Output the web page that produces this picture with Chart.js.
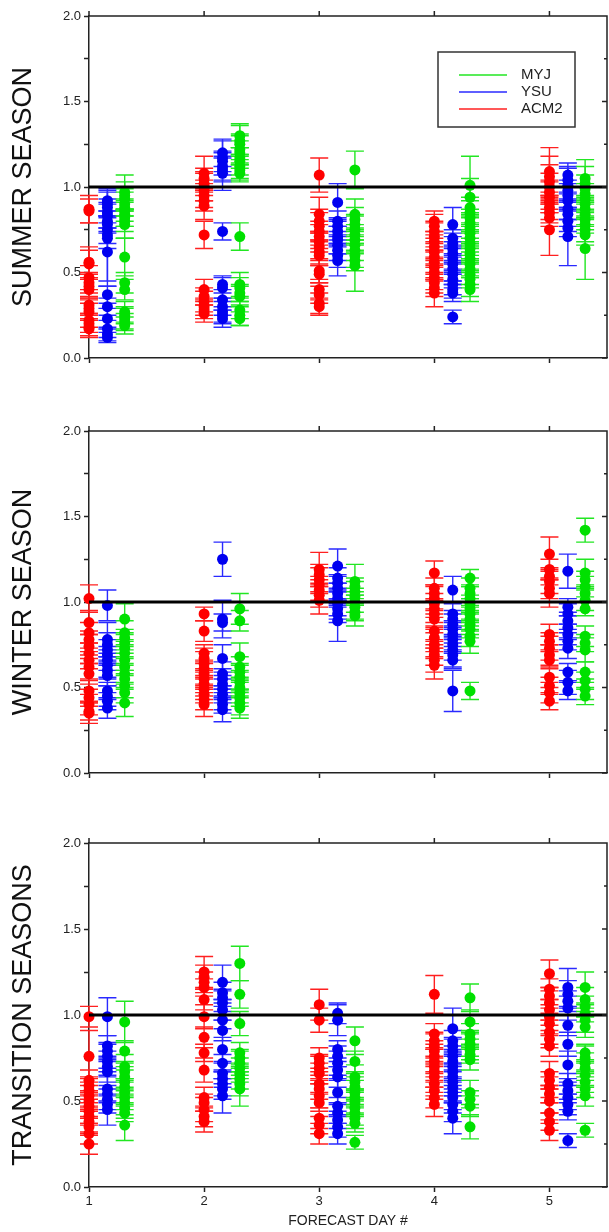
<!DOCTYPE html>
<html>
<head>
<meta charset="utf-8">
<script src="https://cdn.jsdelivr.net/npm/chart.js@4.4.1/dist/chart.umd.min.js"></script>
<style>
    body { margin: 0; background: #fff; width: 609px; height: 1232px; overflow: hidden; }
    .panel { position: relative; width: 609px; }
    canvas { display: block; }
</style>
</head>
<body>
<div class="panel"><canvas id="summer" width="609" height="400"></canvas></div>
<div class="panel"><canvas id="winter" width="609" height="410"></canvas></div>
<div class="panel"><canvas id="transition" width="609" height="422"></canvas></div>
<script>
// forecast days and model names
const days = [1, 2, 3, 4, 5];
const models = ["MYJ", "YSU", "ACM2"];
const yTicks = [0, 0.5, 1, 1.5, 2];

// SUMMER SEASON: one list per forecast day
const summerACM2 = [
    [0.87, 0.86, 0.56, 0.55, 0.47, 0.44, 0.42, 0.40, 0.31, 0.29, 0.27, 0.22, 0.20, 0.18, 0.17],
    [1.08, 1.05, 1.02, 1.00, 0.98, 0.95, 0.92, 0.89, 0.72, 0.40, 0.36, 0.33, 0.30, 0.28, 0.26],
    [1.07, 0.84, 0.80, 0.77, 0.74, 0.71, 0.68, 0.65, 0.62, 0.60, 0.51, 0.49, 0.40, 0.37, 0.32, 0.30],
    [0.80, 0.77, 0.74, 0.71, 0.68, 0.65, 0.62, 0.59, 0.56, 0.53, 0.50, 0.47, 0.44, 0.41, 0.38],
    [1.09, 1.06, 1.03, 1.00, 0.97, 0.94, 0.91, 0.88, 0.85, 0.82, 0.75],
];
const summerACM2Err = [
    [0.08, 0.07, 0.09, 0.08, 0.07, 0.06, 0.07, 0.06, 0.05, 0.06, 0.05, 0.04, 0.05, 0.05, 0.05],
    [0.10, 0.06, 0.07, 0.08, 0.06, 0.07, 0.06, 0.08, 0.08, 0.06, 0.05, 0.06, 0.05, 0.05, 0.05],
    [0.10, 0.10, 0.07, 0.08, 0.06, 0.07, 0.06, 0.08, 0.07, 0.06, 0.07, 0.05, 0.06, 0.05, 0.06, 0.05],
    [0.06, 0.07, 0.06, 0.08, 0.06, 0.07, 0.05, 0.06, 0.07, 0.06, 0.05, 0.07, 0.06, 0.05, 0.08],
    [0.14, 0.12, 0.10, 0.08, 0.07, 0.09, 0.06, 0.07, 0.06, 0.05, 0.15],
];
const summerYSU = [
    [0.92, 0.90, 0.88, 0.85, 0.83, 0.80, 0.78, 0.75, 0.72, 0.70, 0.62, 0.37, 0.30, 0.23, 0.17, 0.14, 0.12],
    [1.20, 1.17, 1.15, 1.12, 1.10, 1.08, 0.74, 0.43, 0.41, 0.34, 0.30, 0.27, 0.25, 0.23],
    [0.91, 0.80, 0.77, 0.74, 0.71, 0.69, 0.66, 0.63, 0.60, 0.57],
    [0.78, 0.70, 0.67, 0.64, 0.61, 0.58, 0.55, 0.52, 0.49, 0.46, 0.43, 0.40, 0.38, 0.24],
    [1.07, 1.04, 1.01, 0.98, 0.95, 0.92, 0.87, 0.84, 0.80, 0.76, 0.71],
];
const summerYSUErr = [
    [0.06, 0.07, 0.05, 0.06, 0.07, 0.06, 0.05, 0.08, 0.27, 0.06, 0.20, 0.05, 0.05, 0.06, 0.05, 0.04, 0.03],
    [0.08, 0.10, 0.06, 0.08, 0.07, 0.10, 0.05, 0.05, 0.06, 0.06, 0.05, 0.06, 0.05, 0.05],
    [0.11, 0.06, 0.05, 0.07, 0.06, 0.08, 0.05, 0.06, 0.07, 0.09],
    [0.10, 0.05, 0.06, 0.07, 0.05, 0.06, 0.05, 0.07, 0.06, 0.05, 0.06, 0.05, 0.05, 0.04],
    [0.07, 0.08, 0.10, 0.06, 0.07, 0.05, 0.06, 0.07, 0.06, 0.05, 0.17],
];
const summerMYJ = [
    [0.97, 0.95, 0.93, 0.90, 0.88, 0.86, 0.84, 0.82, 0.80, 0.78, 0.59, 0.44, 0.40, 0.27, 0.25, 0.23, 0.21, 0.19],
    [1.30, 1.27, 1.25, 1.22, 1.20, 1.17, 1.15, 1.12, 1.10, 1.08, 0.71, 0.43, 0.41, 0.38, 0.36, 0.28, 0.25, 0.23],
    [1.10, 0.84, 0.81, 0.78, 0.75, 0.72, 0.69, 0.66, 0.63, 0.60, 0.57, 0.54],
    [1.01, 0.94, 0.88, 0.85, 0.82, 0.79, 0.76, 0.73, 0.70, 0.67, 0.64, 0.61, 0.58, 0.55, 0.52, 0.49, 0.46, 0.43, 0.40],
    [1.05, 1.02, 0.99, 0.96, 0.93, 0.90, 0.87, 0.84, 0.81, 0.78, 0.75, 0.72, 0.64],
];
const summerMYJErr = [
    [0.10, 0.08, 0.06, 0.07, 0.05, 0.06, 0.07, 0.05, 0.06, 0.08, 0.11, 0.06, 0.06, 0.06, 0.05, 0.06, 0.05, 0.05],
    [0.07, 0.09, 0.06, 0.08, 0.07, 0.06, 0.08, 0.07, 0.06, 0.05, 0.08, 0.07, 0.06, 0.05, 0.06, 0.05, 0.06, 0.04],
    [0.11, 0.09, 0.07, 0.06, 0.08, 0.06, 0.07, 0.05, 0.06, 0.07, 0.06, 0.15],
    [0.17, 0.11, 0.06, 0.07, 0.05, 0.06, 0.08, 0.06, 0.05, 0.07, 0.06, 0.05, 0.06, 0.07, 0.05, 0.06, 0.05, 0.07, 0.07],
    [0.11, 0.10, 0.08, 0.06, 0.07, 0.05, 0.06, 0.07, 0.06, 0.05, 0.07, 0.06, 0.18],
];

// WINTER SEASON
const winterACM2 = [
    [1.02, 0.88, 0.82, 0.78, 0.74, 0.70, 0.66, 0.62, 0.58, 0.48, 0.44, 0.40, 0.36, 0.35],
    [0.93, 0.83, 0.70, 0.67, 0.64, 0.61, 0.58, 0.55, 0.52, 0.49, 0.46, 0.43, 0.40],
    [1.19, 1.16, 1.13, 1.10, 1.07, 1.04, 1.01],
    [1.17, 1.08, 1.05, 1.02, 0.99, 0.96, 0.93, 0.90, 0.83, 0.79, 0.75, 0.72, 0.69, 0.66, 0.63],
    [1.28, 1.19, 1.15, 1.12, 1.08, 1.05, 0.81, 0.77, 0.73, 0.69, 0.66, 0.56, 0.51, 0.47, 0.42],
];
const winterACM2Err = [
    [0.08, 0.07, 0.06, 0.05, 0.07, 0.06, 0.05, 0.07, 0.06, 0.06, 0.05, 0.06, 0.05, 0.06],
    [0.04, 0.06, 0.05, 0.06, 0.07, 0.05, 0.06, 0.05, 0.07, 0.06, 0.05, 0.06, 0.07],
    [0.10, 0.06, 0.07, 0.05, 0.06, 0.07, 0.08],
    [0.07, 0.06, 0.05, 0.07, 0.06, 0.05, 0.07, 0.06, 0.05, 0.06, 0.07, 0.05, 0.06, 0.07, 0.08],
    [0.10, 0.06, 0.05, 0.07, 0.06, 0.08, 0.06, 0.05, 0.07, 0.06, 0.05, 0.06, 0.05, 0.06, 0.05],
];
const winterYSU = [
    [0.98, 0.78, 0.75, 0.72, 0.69, 0.66, 0.63, 0.60, 0.57, 0.48, 0.45, 0.42, 0.38],
    [1.25, 0.90, 0.88, 0.67, 0.58, 0.55, 0.52, 0.49, 0.46, 0.43, 0.40, 0.37],
    [1.21, 1.14, 1.11, 1.08, 1.05, 1.02, 0.99, 0.96, 0.93, 0.89],
    [1.07, 0.93, 0.90, 0.87, 0.84, 0.81, 0.78, 0.75, 0.72, 0.69, 0.66, 0.48],
    [1.18, 0.97, 0.93, 0.89, 0.85, 0.81, 0.77, 0.73, 0.59, 0.53, 0.48],
];
const winterYSUErr = [
    [0.09, 0.10, 0.07, 0.06, 0.05, 0.06, 0.07, 0.05, 0.06, 0.05, 0.06, 0.05, 0.06],
    [0.10, 0.11, 0.05, 0.08, 0.07, 0.06, 0.05, 0.06, 0.05, 0.06, 0.05, 0.07],
    [0.10, 0.06, 0.05, 0.07, 0.06, 0.05, 0.07, 0.06, 0.05, 0.12],
    [0.08, 0.07, 0.05, 0.06, 0.05, 0.07, 0.06, 0.05, 0.06, 0.07, 0.05, 0.12],
    [0.10, 0.05, 0.06, 0.05, 0.07, 0.06, 0.05, 0.06, 0.05, 0.07, 0.05],
];
const winterMYJ = [
    [0.90, 0.82, 0.79, 0.76, 0.73, 0.70, 0.66, 0.62, 0.58, 0.55, 0.51, 0.47, 0.41],
    [0.96, 0.89, 0.68, 0.62, 0.59, 0.56, 0.53, 0.50, 0.47, 0.44, 0.41, 0.38],
    [1.12, 1.09, 1.06, 1.03, 1.00, 0.97, 0.94, 0.92],
    [1.14, 1.08, 1.05, 1.02, 0.99, 0.96, 0.93, 0.90, 0.87, 0.84, 0.80, 0.77, 0.48],
    [1.42, 1.17, 1.13, 1.09, 1.05, 1.01, 0.96, 0.80, 0.76, 0.72, 0.59, 0.54, 0.49, 0.45],
];
const winterMYJErr = [
    [0.09, 0.07, 0.05, 0.06, 0.05, 0.07, 0.06, 0.05, 0.06, 0.05, 0.07, 0.06, 0.08],
    [0.09, 0.06, 0.08, 0.06, 0.05, 0.07, 0.06, 0.05, 0.06, 0.05, 0.07, 0.06],
    [0.10, 0.05, 0.06, 0.05, 0.06, 0.07, 0.05, 0.06],
    [0.05, 0.06, 0.05, 0.07, 0.05, 0.06, 0.05, 0.07, 0.06, 0.05, 0.06, 0.07, 0.05],
    [0.07, 0.08, 0.05, 0.06, 0.05, 0.06, 0.04, 0.06, 0.05, 0.07, 0.06, 0.05, 0.06, 0.05],
];

// TRANSITION SEASONS
const transACM2 = [
    [0.99, 0.76, 0.62, 0.59, 0.56, 0.53, 0.50, 0.47, 0.44, 0.41, 0.38, 0.35, 0.31, 0.25],
    [1.25, 1.22, 1.19, 1.16, 1.09, 0.99, 0.87, 0.78, 0.68, 0.52, 0.49, 0.45, 0.41, 0.38],
    [1.06, 0.97, 0.75, 0.72, 0.69, 0.66, 0.60, 0.57, 0.53, 0.49, 0.40, 0.36, 0.31],
    [1.12, 0.89, 0.85, 0.82, 0.79, 0.76, 0.73, 0.70, 0.67, 0.64, 0.60, 0.56, 0.52, 0.48],
    [1.24, 1.15, 1.11, 1.07, 1.03, 0.99, 0.95, 0.90, 0.86, 0.82, 0.66, 0.62, 0.58, 0.54, 0.50, 0.43, 0.38, 0.33],
];
const transACM2Err = [
    [0.06, 0.15, 0.06, 0.05, 0.07, 0.06, 0.05, 0.06, 0.07, 0.05, 0.06, 0.05, 0.06, 0.06],
    [0.09, 0.07, 0.06, 0.05, 0.06, 0.07, 0.06, 0.05, 0.07, 0.06, 0.05, 0.07, 0.06, 0.06],
    [0.09, 0.07, 0.06, 0.05, 0.07, 0.06, 0.05, 0.06, 0.07, 0.05, 0.06, 0.05, 0.06],
    [0.11, 0.06, 0.05, 0.07, 0.06, 0.05, 0.07, 0.06, 0.05, 0.06, 0.07, 0.05, 0.06, 0.07],
    [0.08, 0.06, 0.05, 0.07, 0.06, 0.05, 0.06, 0.07, 0.05, 0.06, 0.07, 0.05, 0.06, 0.05, 0.07, 0.06, 0.05, 0.06],
];
const transYSU = [
    [0.99, 0.82, 0.79, 0.76, 0.73, 0.70, 0.67, 0.57, 0.54, 0.51, 0.48, 0.45],
    [1.19, 1.13, 1.10, 1.07, 1.03, 0.97, 0.91, 0.80, 0.72, 0.66, 0.63, 0.60, 0.57, 0.53],
    [1.01, 0.97, 0.80, 0.76, 0.72, 0.68, 0.64, 0.55, 0.47, 0.43, 0.39, 0.35, 0.31],
    [0.92, 0.85, 0.82, 0.79, 0.76, 0.73, 0.70, 0.67, 0.64, 0.61, 0.58, 0.55, 0.52, 0.48, 0.44, 0.40],
    [1.16, 1.12, 1.08, 1.04, 0.94, 0.83, 0.71, 0.60, 0.56, 0.52, 0.48, 0.44, 0.27],
];
const transYSUErr = [
    [0.11, 0.06, 0.05, 0.07, 0.06, 0.05, 0.06, 0.07, 0.05, 0.06, 0.05, 0.09],
    [0.10, 0.06, 0.05, 0.07, 0.06, 0.05, 0.06, 0.07, 0.05, 0.06, 0.05, 0.07, 0.06, 0.10],
    [0.06, 0.09, 0.05, 0.06, 0.07, 0.05, 0.06, 0.07, 0.05, 0.06, 0.05, 0.06, 0.06],
    [0.12, 0.06, 0.05, 0.07, 0.06, 0.05, 0.06, 0.05, 0.07, 0.06, 0.05, 0.06, 0.07, 0.05, 0.06, 0.09],
    [0.11, 0.08, 0.06, 0.07, 0.06, 0.07, 0.08, 0.06, 0.05, 0.07, 0.06, 0.05, 0.04],
];
const transMYJ = [
    [0.96, 0.79, 0.70, 0.67, 0.64, 0.61, 0.58, 0.55, 0.52, 0.49, 0.46, 0.43, 0.36],
    [1.30, 1.12, 0.95, 0.78, 0.75, 0.72, 0.69, 0.66, 0.63, 0.60, 0.57],
    [0.85, 0.73, 0.64, 0.61, 0.58, 0.55, 0.52, 0.49, 0.46, 0.43, 0.40, 0.37, 0.26],
    [1.10, 0.96, 0.89, 0.86, 0.83, 0.80, 0.77, 0.74, 0.55, 0.51, 0.47, 0.35],
    [1.16, 1.09, 1.05, 1.01, 0.97, 0.93, 0.78, 0.75, 0.72, 0.69, 0.65, 0.61, 0.57, 0.53, 0.33],
];
const transMYJErr = [
    [0.12, 0.06, 0.07, 0.05, 0.06, 0.07, 0.05, 0.06, 0.05, 0.07, 0.06, 0.05, 0.09],
    [0.10, 0.08, 0.07, 0.06, 0.05, 0.07, 0.06, 0.05, 0.06, 0.07, 0.10],
    [0.08, 0.06, 0.07, 0.05, 0.06, 0.07, 0.05, 0.06, 0.05, 0.07, 0.06, 0.05, 0.04],
    [0.08, 0.07, 0.06, 0.05, 0.07, 0.06, 0.05, 0.06, 0.07, 0.05, 0.06, 0.07],
    [0.09, 0.07, 0.06, 0.05, 0.07, 0.06, 0.05, 0.07, 0.06, 0.05, 0.07, 0.06, 0.05, 0.06, 0.04],
];

const colors = { MYJ: "#00e000", YSU: "#0000f0", ACM2: "#ff0000" };
const barColors = { MYJ: "#22e622", YSU: "#2a2aff", ACM2: "#ff2020" };
const offsets = { MYJ: 0.31, YSU: 0.16, ACM2: 0 };
const fontFamily = "'Liberation Sans', Arial, Helvetica, sans-serif";

function points(values, model) {
    const pts = [];
    values.forEach((dayValues, i) => {
        dayValues.forEach((v) => pts.push({ x: days[i] + offsets[model], y: v }));
    });
    return pts;
}

// vertical error bars with caps, drawn under each dataset's dots
const errorBars = {
    id: "errorBars",
    beforeDatasetDraw(chart, args) {
        const ds = chart.data.datasets[args.index];
        const y = chart.scales.y;
        const ctx = chart.ctx;
        ctx.save();
        ctx.strokeStyle = ds.barColor;
        ctx.lineWidth = 1.4;
        args.meta.data.forEach((pt, i) => {
            const v = ds.data[i].y;
            const e = ds.errors[i];
            const top = y.getPixelForValue(v + e);
            const bot = y.getPixelForValue(v - e);
            ctx.beginPath();
            ctx.moveTo(pt.x, top);
            ctx.lineTo(pt.x, bot);
            ctx.moveTo(pt.x - 9, top);
            ctx.lineTo(pt.x + 9, top);
            ctx.moveTo(pt.x - 9, bot);
            ctx.lineTo(pt.x + 9, bot);
            ctx.stroke();
        });
        ctx.restore();
    },
};

// the 1.0 reference line, the top/right frame and their tick marks
const frame = {
    id: "frame",
    afterDatasetsDraw(chart) {
        const { ctx, chartArea: a, scales } = chart;
        ctx.save();
        ctx.strokeStyle = "#000";
        ctx.lineWidth = 3;
        const y1 = scales.y.getPixelForValue(1);
        ctx.beginPath();
        ctx.moveTo(a.left, y1);
        ctx.lineTo(a.right, y1);
        ctx.stroke();

        ctx.strokeStyle = "#222";
        ctx.lineWidth = 1.5;
        ctx.beginPath();
        ctx.moveTo(a.left, a.top);
        ctx.lineTo(a.right, a.top);
        ctx.lineTo(a.right, a.bottom);
        scales.x.ticks.forEach((t) => {
            const px = scales.x.getPixelForValue(t.value);
            ctx.moveTo(px, a.top);
            ctx.lineTo(px, a.top - 5);
        });
        scales.y.ticks.forEach((t) => {
            const py = scales.y.getPixelForValue(t.value);
            const len = yTicks.includes(t.value) ? 5 : 3;
            ctx.moveTo(a.right, py);
            ctx.lineTo(a.right - len, py);
        });
        ctx.stroke();
        ctx.restore();
    },
};

// boxed legend inside the summer panel
const boxLegend = {
    id: "boxLegend",
    afterDraw(chart, args, opts) {
        if (!opts.show) return;
        const { ctx, chartArea: a } = chart;
        const bx = a.left + 349, by = a.top + 36, bw = 137, bh = 75;
        ctx.save();
        ctx.fillStyle = "#fff";
        ctx.fillRect(bx, by, bw, bh);
        ctx.strokeStyle = "#333";
        ctx.lineWidth = 1.5;
        ctx.strokeRect(bx, by, bw, bh);
        ctx.font = "15px " + fontFamily;
        ctx.textBaseline = "middle";
        models.forEach((m, i) => {
            const ly = by + 23 + i * 17;
            ctx.strokeStyle = barColors[m];
            ctx.lineWidth = 1.5;
            ctx.beginPath();
            ctx.moveTo(bx + 21, ly);
            ctx.lineTo(bx + 69, ly);
            ctx.stroke();
            ctx.fillStyle = "#222";
            ctx.fillText(m, bx + 83, ly);
        });
        ctx.restore();
    },
};

function makePanel(id, title, series, layout) {
    const datasets = models.map((m) => ({
        label: m,
        data: points(series[m][0], m),
        errors: series[m][1].flat(),
        barColor: barColors[m],
        backgroundColor: colors[m],
        borderWidth: 0,
        pointRadius: 5.5,
        clip: false,
    }));
    new Chart(document.getElementById(id), {
        type: "scatter",
        data: { datasets },
        plugins: [errorBars, frame, boxLegend],
        options: {
            responsive: false,
            animation: false,
            events: [],
            layout: { autoPadding: false, padding: { top: layout.top, right: 2, left: 0, bottom: 0 } },
            scales: {
                x: {
                    type: "linear",
                    min: 1,
                    max: 5.5,
                    afterFit: (s) => {
                        s.height = layout.xHeight;
                        s.paddingLeft = 0;
                        s.paddingRight = 0;
                    },
                    border: { color: "#222", width: 1.5 },
                    grid: { drawOnChartArea: false, tickLength: 5, tickColor: "#222", tickWidth: 1.5 },
                    ticks: {
                        stepSize: 1,
                        includeBounds: false,
                        autoSkip: false,
                        maxRotation: 0,
                        padding: 2,
                        color: "#222",
                        font: { family: fontFamily, size: 13 },
                        callback: (v) => (layout.xLabels && Number.isInteger(v) ? String(v) : ""),
                    },
                    title: {
                        display: layout.xLabels,
                        text: "FORECAST DAY #",
                        color: "#222",
                        font: { family: fontFamily, size: 14 },
                        padding: { top: 0, bottom: 2 },
                    },
                },
                y: {
                    min: 0,
                    max: 2,
                    afterFit: (s) => { s.width = 89; },
                    border: { color: "#222", width: 1.5 },
                    grid: { drawOnChartArea: false, tickLength: 5, tickColor: "#222", tickWidth: 1.5 },
                    ticks: {
                        stepSize: 0.25,
                        padding: 3,
                        color: "#222",
                        font: { family: fontFamily, size: 13 },
                        callback: (v) => (yTicks.includes(v) ? v.toFixed(1) : ""),
                    },
                    title: {
                        display: true,
                        text: title,
                        color: "#111",
                        font: { family: fontFamily, size: 27 },
                        padding: { top: 7, bottom: 0 },
                    },
                },
            },
            plugins: {
                legend: { display: false },
                tooltip: { enabled: false },
                boxLegend: { show: layout.legend },
            },
        },
    });
}

makePanel("summer", "SUMMER SEASON", {
    MYJ: [summerMYJ, summerMYJErr],
    YSU: [summerYSU, summerYSUErr],
    ACM2: [summerACM2, summerACM2Err],
}, { top: 16, xHeight: 42, xLabels: false, legend: true });

makePanel("winter", "WINTER SEASON", {
    MYJ: [winterMYJ, winterMYJErr],
    YSU: [winterYSU, winterYSUErr],
    ACM2: [winterACM2, winterACM2Err],
}, { top: 31, xHeight: 37, xLabels: false, legend: false });

makePanel("transition", "TRANSITION SEASONS", {
    MYJ: [transMYJ, transMYJErr],
    YSU: [transYSU, transYSUErr],
    ACM2: [transACM2, transACM2Err],
}, { top: 33, xHeight: 45, xLabels: true, legend: false });
</script>
</body>
</html>
